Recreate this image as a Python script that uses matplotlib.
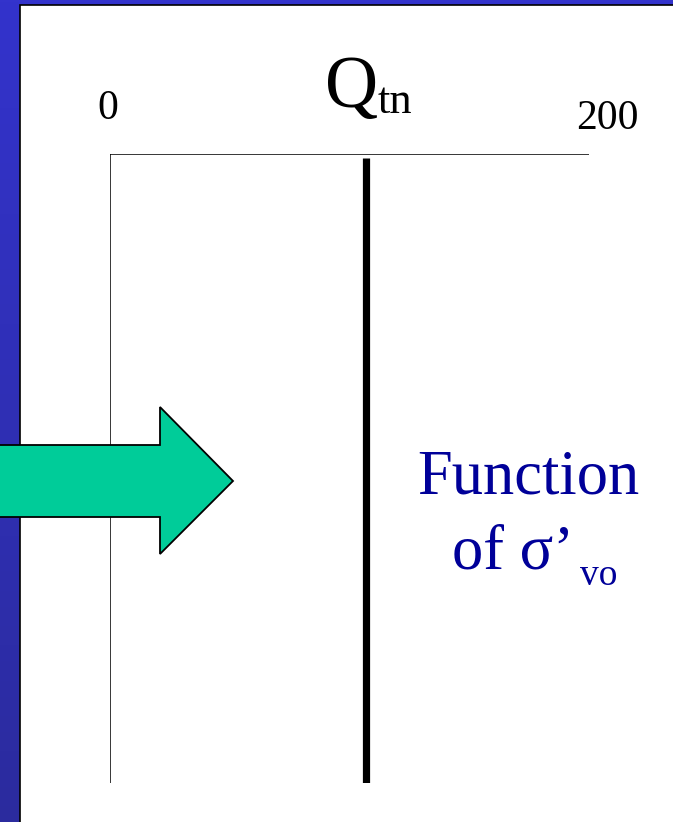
"""
Qtn profile sketch: normalised cone resistance vs depth
"""

import numpy as np
import matplotlib

matplotlib.use("Agg")
import matplotlib.pyplot as plt  # type: ignore
from matplotlib.patches import Polygon, Rectangle  # type: ignore

W, H = 673, 822

# chart values
x_limits = [0, 200]
tick_values = [0, 200]
tick_labels = ["0", "200"]
qtn_value = 107
depth = [0.0, 1.0]
qtn_depth = [0.006, 1.0]

SERIF = "Liberation Serif"
TEXT_BLUE = "#000099"

fig = plt.figure(figsize=(W / 100, H / 100), dpi=100)

# background: blue slide frame with white panel
bg = fig.add_axes([0, 0, 1, 1])
bg.set_xlim(0, W)
bg.set_ylim(H, 0)
bg.axis("off")
grad = np.linspace(0, 1, 256).reshape(-1, 1)
top_c = np.array([0.20, 0.20, 0.80])
bot_c = np.array([0.17, 0.17, 0.62])
img = top_c + grad[..., None] * (bot_c - top_c)
bg.imshow(img, extent=[0, W, H, 0], aspect="auto", zorder=0)
bg.add_patch(Rectangle((20, 5), W, H, facecolor="white",
                       edgecolor="black", linewidth=1.2, zorder=1))

# chart axes
ax = fig.add_axes([110 / W, 1 - 783 / H, (589 - 110) / W, (783 - 154) / H])
ax.set_xlim(x_limits)
ax.set_ylim(1, 0)
ax.axis("off")
ax.patch.set_alpha(0)

ax.plot([-1.3, x_limits[1]], [0, 0], color="black", linewidth=1.1,
        solid_capstyle="butt")
ax.plot([0, 0], depth, color="black", linewidth=1.1, solid_capstyle="butt")
ax.plot([qtn_value, qtn_value], qtn_depth, color="black", linewidth=5.2,
        solid_capstyle="butt")

offsets = [(-2, 35), (18, 25)]
for val, lab, off in zip(tick_values, tick_labels, offsets):
    ax.annotate(lab, (val, 0), xytext=off, textcoords="offset pixels",
                ha="center", va="baseline", fontsize=30, family=SERIF,
                annotation_clip=False)

# axis title Q_tn
bg.text(325, 107, "Q", fontsize=53, family=SERIF, va="baseline", ha="left",
        zorder=5)
bg.text(378, 113, "tn", fontsize=32, family=SERIF, va="baseline", ha="left",
        zorder=5)

# arrow, drawn over the depth axis line
arrow = [(-5, 445), (160, 445), (160, 407), (233, 481),
         (160, 554), (160, 517), (-5, 517)]
ax.add_patch(Polygon(arrow, closed=True, facecolor="#00CC99",
                     edgecolor="black", linewidth=1.3, zorder=10,
                     transform=bg.transData, clip_on=False))

# annotation text
bg.text(528, 493, "Function", fontsize=45, family=SERIF, color=TEXT_BLUE,
        va="baseline", ha="center", zorder=5)
bg.text(452, 568, "of σ’", fontsize=45, family=SERIF, color=TEXT_BLUE,
        va="baseline", ha="left", zorder=5)
bg.text(580, 585, "vo", fontsize=27, family=SERIF, color=TEXT_BLUE,
        va="baseline", ha="left", zorder=5)

fig.savefig("out.png", dpi=100)
